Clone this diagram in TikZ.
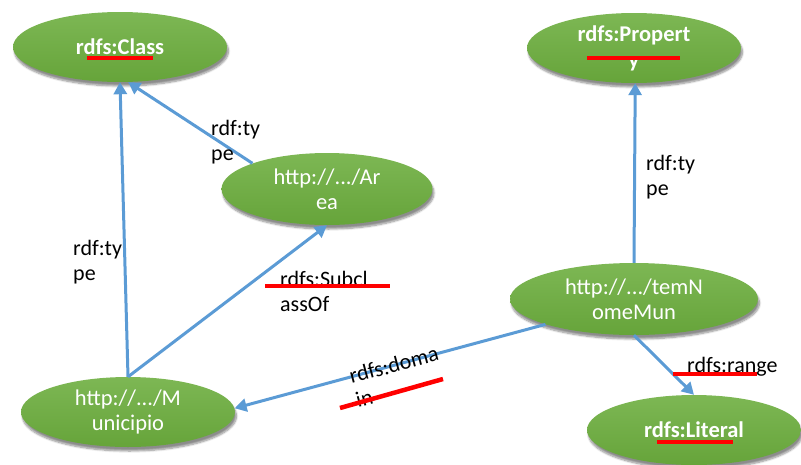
\documentclass[tikz,border=0pt]{standalone}
\usepackage{fontspec}
\setmainfont{Carlito}
\usetikzlibrary{shapes.geometric,arrows.meta,shadows.blur}

\definecolor{nodegreenA}{RGB}{125,183,84}
\definecolor{nodegreenB}{RGB}{102,164,58}
\definecolor{linkblue}{RGB}{91,155,213}
\definecolor{markred}{RGB}{255,0,0}

\tikzset{
  res/.style={ellipse, inner sep=0pt, minimum width=214pt, minimum height=70pt,
    top color=nodegreenA, bottom color=nodegreenB, draw=none, text=white,
    align=center, font=\fontsize{22.5}{25}\selectfont,
    blur shadow={shadow xshift=1.5pt, shadow yshift=-4pt, shadow blur steps=8, shadow opacity=45}},
  wide/.style={minimum width=248pt, minimum height=72pt},
  link/.style={draw=linkblue, line width=3pt, -{Triangle[length=12pt,width=13pt]}},
  lbl/.style={anchor=base west, align=left, inner sep=0pt, text=black,
    font=\fontsize{22}{25}\selectfont},
  strike/.style={draw=markred, line width=4.5pt},
}

\begin{document}
\begin{tikzpicture}[x=1pt, y=-1pt]
  \clip (0,0) rectangle (801,464);
  \useasboundingbox (0,0) rectangle (801,464);

  % resources
  \node[res] (class) at (120,47) {\bfseries rdfs:Class};
  \node[res, font=\bfseries\fontsize{22.5}{26}\selectfont] (prop) at (634,48) {rdfs:Propert\\y};
  \node[res, minimum width=211pt, minimum height=72pt] (area) at (327,189) {http://.../Ar\\ea};
  \node[res, wide] (nome) at (634,299) {http://.../temN\\omeMun};
  \node[res] (lit) at (694,430) {\bfseries rdfs:Literal};
  \node[res] (muni) at (128,412) {http://.../M\\unicipio};

  % relations
  \draw[link] (area.161) -- (class.283);
  \draw[link] (muni.90) -- (class.270);
  \draw[link] (muni.90) -- (area.270);
  \draw[link] (nome.90) -- (prop.272);
  \draw[link] (nome.196) -- (muni.2);
  \draw[link] (nome.270) -- (lit.90);

  % relation labels (anchored on the baseline of their last line)
  \node[lbl] (t1) at (211,160) {rdf:ty\\pe};
  \node[lbl] (t2) at (73,280) {rdf:ty\\pe};
  \node[lbl] (t3) at (646,195) {rdf:ty\\pe};
  \node[lbl] (sub) at (280,311) {rdfs:Subcl\\assOf};
  \node[lbl] (rng) at (687,372) {rdfs:range};
  \node[lbl, rotate=15] (dom) at (358,408) {rdfs:doma\\in};

  % red marks over the labels
  \draw[strike] (87,58) -- (153,58);
  \draw[strike] (587,58) -- (680,58);
  \draw[strike] (265,286) -- (390,286);
  \draw[strike] (673,374) -- (757,374);
  \draw[strike] (340,408) -- (443,379);
  \draw[strike] (657,442) -- (733,442);
\end{tikzpicture}
\end{document}
